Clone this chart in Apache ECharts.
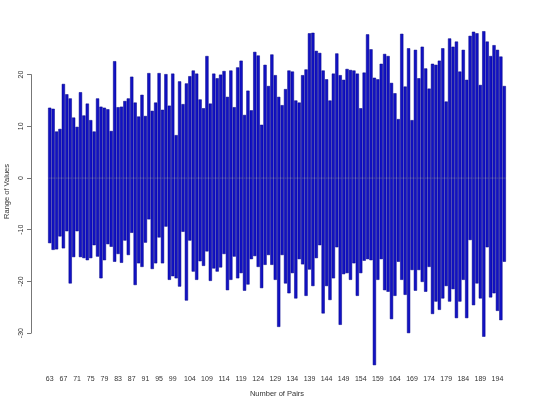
<!DOCTYPE html>
<html>
<head>
<meta charset="utf-8">
<script src="https://cdn.jsdelivr.net/npm/echarts@6/dist/echarts.min.js"></script>
<style>
  html, body { margin: 0; padding: 0; background: #fff; }
  #chart { width: 540px; height: 405px; }
</style>
</head>
<body>
<div id="chart"></div>
<script>
// pair numbers on the x axis (one bar per pair)
const firstPair = 63
const lastPair = 196
const pairs = Array.from({ length: lastPair - firstPair + 1 }, (_, i) => String(firstPair + i))

// tick labels that R printed (the rest were dropped for overlap)
const shownLabels = [63, 67, 71, 75, 79, 83, 87, 91, 95, 99, 104, 109, 114, 119, 124,
  129, 134, 139, 144, 149, 154, 159, 164, 169, 174, 179, 184, 189, 194]

// upper end of the range for each pair
const upperValues = [
  13.6, 13.4, 9.0, 9.5, 18.2, 16.2, 15.4, 11.7, 9.9, 16.6, 12.1, 14.4, 11.2, 9.0, 15.4, 13.8,
  13.6, 13.3, 9.1, 22.6, 13.7, 13.8, 14.9, 15.4, 19.6, 14.6, 11.9, 16.1, 12.0, 20.3, 13.0, 14.6,
  20.3, 13.2, 20.1, 14.0, 20.2, 8.3, 18.7, 14.3, 18.3, 19.7, 20.8, 20.2, 15.2, 13.5, 23.6, 14.4,
  20.2, 19.3, 20.0, 20.7, 15.7, 20.8, 13.7, 21.4, 22.7, 12.2, 16.9, 13.1, 24.4, 23.7, 10.3, 21.9,
  17.8, 23.9, 19.9, 15.7, 14.1, 17.2, 20.8, 20.6, 15.0, 14.6, 19.9, 21.0, 28.0, 28.1, 24.6, 24.2,
  20.8, 19.1, 15.0, 20.2, 24.1, 19.9, 19.0, 21.1, 20.9, 20.8, 20.2, 13.5, 20.4, 27.8, 24.9, 19.4,
  19.1, 22.1, 24.0, 23.6, 18.4, 16.4, 11.4, 27.9, 17.7, 25.1, 11.2, 24.8, 19.3, 25.4, 21.2, 17.3,
  22.1, 21.9, 22.7, 25.1, 14.8, 27.0, 25.4, 26.4, 20.6, 24.8, 19.0, 27.5, 28.3, 28.0, 18.0, 28.4,
  26.4, 23.6, 25.7, 24.8, 23.5, 17.8
]

// lower end of the range for each pair
const lowerValues = [
  -12.6, -13.9, -13.8, -11.3, -13.6, -10.3, -20.4, -15.3, -10.3, -15.3, -15.5, -15.9, -15.5, -13.0,
  -15.2, -19.4, -15.9, -12.8, -13.3, -16.2, -14.7, -16.4, -12.1, -14.9, -10.6, -20.7, -16.5, -17.2,
  -12.5, -8.0, -17.6, -16.5, -11.5, -16.5, -9.4, -19.7, -19.0, -19.4, -21.0, -10.4, -23.7, -12.1,
  -18.1, -19.7, -16.1, -17.0, -14.2, -19.9, -17.5, -18.1, -17.3, -14.7, -21.7, -19.7, -15.2, -19.4,
  -18.4, -21.8, -20.6, -15.7, -15.1, -17.2, -21.3, -16.8, -14.9, -16.8, -19.7, -28.8, -14.9, -20.4,
  -22.3, -18.4, -23.3, -15.7, -16.7, -22.8, -17.7, -20.9, -15.5, -13.0, -26.2, -20.9, -23.6, -19.4,
  -13.4, -28.4, -18.6, -18.4, -19.7, -16.5, -22.8, -18.4, -16.0, -15.7, -15.9, -36.2, -19.7, -15.7,
  -21.7, -22.0, -27.3, -22.8, -16.2, -19.7, -22.6, -30.0, -17.8, -21.8, -17.8, -20.1, -22.0, -17.2,
  -26.3, -23.9, -25.5, -23.3, -20.9, -23.9, -21.5, -27.1, -23.9, -19.7, -27.1, -12.0, -24.6, -20.4,
  -23.3, -30.7, -13.4, -23.1, -22.3, -25.7, -27.5, -16.2
]

// y tick range drawn by R (axis line only spans these)
const yTickMin = -30
const yTickMax = 20
const yTickStep = 10

const chart = echarts.init(document.getElementById('chart'))

const barStyle = {
  color: '#1212c4',
  borderColor: '#000086',
  borderWidth: 0.5
}

const option = {
  animation: false,
  backgroundColor: '#fff',
  textStyle: { fontFamily: 'Liberation Sans, Arial, sans-serif' },
  grid: [
    // plotting region
    { left: 48, right: 34, top: 28.1, bottom: 35.7 },
    // region used only for the R style y axis (-30 .. 20)
    { left: 31, width: 1, top: 74.6, bottom: 71.9 }
  ],
  xAxis: [
    {
      type: 'category',
      gridIndex: 0,
      data: pairs,
      axisLine: { show: false },
      axisTick: { show: false },
      axisLabel: {
        interval: (idx, val) => shownLabels.includes(Number(val)),
        fontSize: 7,
        color: '#333',
        margin: 6
      },
      name: 'Number of Pairs',
      nameLocation: 'middle',
      nameGap: 21,
      nameTextStyle: { fontSize: 7.5, color: '#333' }
    },
    { type: 'value', gridIndex: 1, show: false }
  ],
  yAxis: [
    {
      type: 'value',
      gridIndex: 0,
      min: -37,
      max: 29,
      show: false
    },
    {
      type: 'value',
      gridIndex: 1,
      min: yTickMin,
      max: yTickMax,
      interval: yTickStep,
      splitLine: { show: false },
      axisLine: { show: true, lineStyle: { color: '#777', width: 1 } },
      axisTick: { show: true, length: 4, lineStyle: { color: '#777' } },
      axisLabel: { rotate: 90, fontSize: 7, color: '#333', margin: 6 }
    }
  ],
  graphic: [
    {
      type: 'text',
      left: 3,
      top: 164,
      rotation: Math.PI / 2,
      style: {
        text: 'Range of Values',
        fontSize: 7.5,
        fill: '#333',
        fontFamily: 'Liberation Sans, Arial, sans-serif'
      }
    }
  ],
  series: [
    {
      name: 'upper',
      type: 'bar',
      xAxisIndex: 0,
      yAxisIndex: 0,
      data: upperValues,
      barCategoryGap: '6%',
      barGap: '-100%',
      itemStyle: barStyle
    },
    {
      name: 'lower',
      type: 'bar',
      xAxisIndex: 0,
      yAxisIndex: 0,
      data: lowerValues,
      barCategoryGap: '6%',
      barGap: '-100%',
      itemStyle: barStyle
    }
  ]
}

chart.setOption(option)
</script>
</body>
</html>
